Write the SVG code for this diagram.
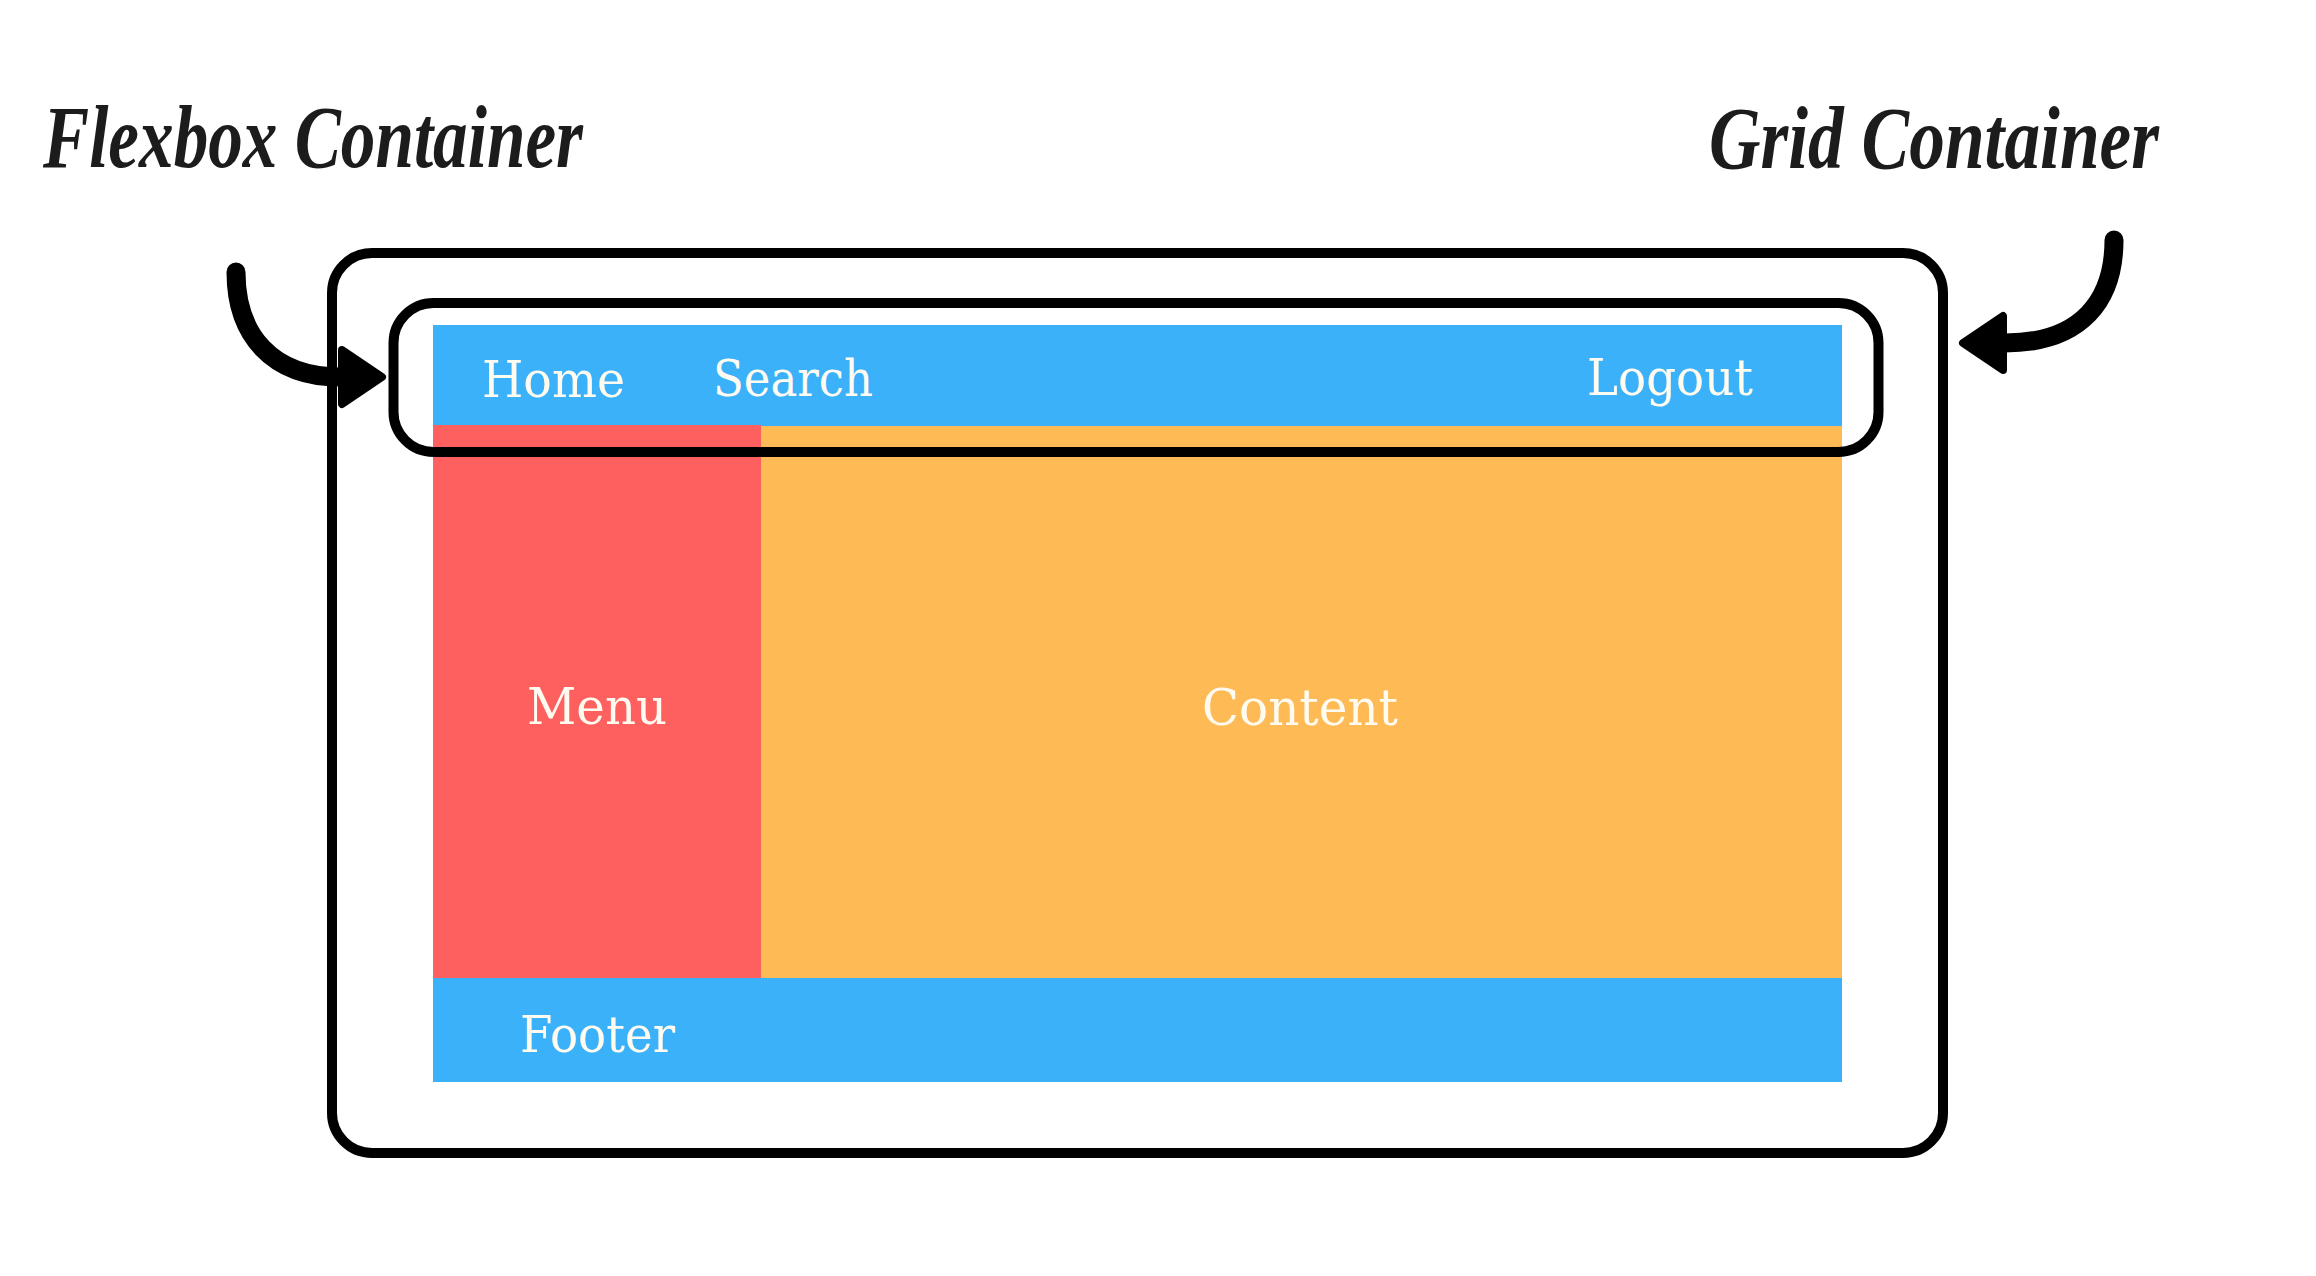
<svg xmlns="http://www.w3.org/2000/svg" width="2316" height="1276" viewBox="0 0 2316 1276">
  <style>
    .frame { fill: none; stroke: #000; stroke-width: 10; }
    .lbl { font-family: "DejaVu Serif", "Liberation Serif", serif; font-size: 50px; fill: #fffbf0; }
    .script { font-family: "Liberation Serif", "DejaVu Serif", serif; font-style: italic; font-weight: bold; font-size: 88px; fill: #1c1c1c; }
    .conn { fill: none; stroke: #000; stroke-width: 19; stroke-linecap: round; }
  </style>
  <defs>
    <marker id="head" viewBox="0 0 50 64" refX="3" refY="32" markerWidth="50" markerHeight="64" markerUnits="userSpaceOnUse" orient="auto">
      <path d="M5,5 L45,32 L5,59 Z" fill="#000" stroke="#000" stroke-width="8" stroke-linejoin="round"/>
    </marker>
  </defs>
  <rect width="2316" height="1276" fill="#fff"/>

  <g id="header">
    <rect x="433" y="325" width="1409" height="101" fill="#3ab1f9"/>
    <text class="lbl" x="482" y="397" textLength="143" lengthAdjust="spacingAndGlyphs">Home</text>
    <text class="lbl" x="713" y="396" textLength="160" lengthAdjust="spacingAndGlyphs">Search</text>
    <text class="lbl" x="1587" y="395" textLength="166" lengthAdjust="spacingAndGlyphs">Logout</text>
  </g>
  <g id="menu">
    <rect x="433" y="425" width="328" height="554" fill="#fe5f5f"/>
    <text class="lbl" x="527" y="724" textLength="140" lengthAdjust="spacingAndGlyphs">Menu</text>
  </g>
  <g id="content">
    <rect x="761" y="426" width="1081" height="553" fill="#fdba55"/>
    <text class="lbl" x="1202" y="725" textLength="196" lengthAdjust="spacingAndGlyphs">Content</text>
  </g>
  <g id="footer">
    <rect x="433" y="978" width="1409" height="104" fill="#3ab1f9"/>
    <text class="lbl" x="520" y="1052" textLength="155" lengthAdjust="spacingAndGlyphs">Footer</text>
  </g>

  <g id="grid-container">
    <rect class="frame" x="332" y="253" width="1611" height="900" rx="40" ry="40"/>
  </g>
  <g id="flexbox-container">
    <rect class="frame" x="393.5" y="303" width="1485" height="149" rx="40" ry="40"/>
  </g>

  <g id="flexbox-label">
    <text class="script" x="43" y="167" textLength="540" lengthAdjust="spacingAndGlyphs">Flexbox Container</text>
  </g>
  <g id="grid-label">
    <text class="script" x="1709" y="168" textLength="450" lengthAdjust="spacingAndGlyphs">Grid Container</text>
  </g>

  <g id="connectors">
    <path class="conn" d="M236,272 C236,335 272,377 340,377" marker-end="url(#head)"/>
    <path class="conn" d="M2114,240 C2114,300 2082,343 2005,343" marker-end="url(#head)"/>
  </g>
</svg>
